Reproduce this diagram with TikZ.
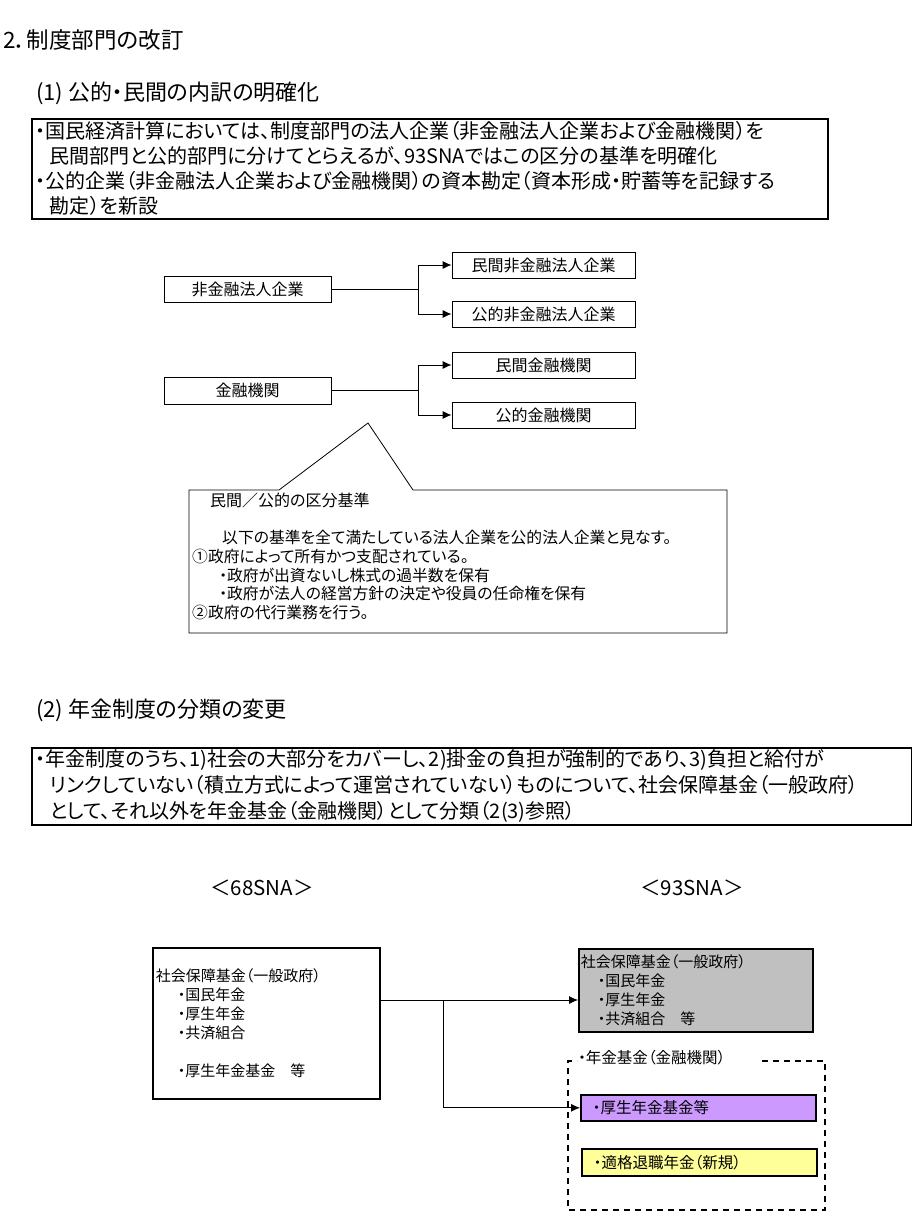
\documentclass[tikz,border=0pt]{standalone}
\usepackage{fontspec}
\setmainfont{Noto Sans CJK JP}[RawFeature=+palt]
\usetikzlibrary{arrows.meta,positioning}

\definecolor{haiiro}{RGB}{192,192,192}
\definecolor{murasaki}{RGB}{204,153,255}
\definecolor{kiiro}{RGB}{255,255,153}

\begin{document}
\begin{tikzpicture}[x=1pt,y=-1pt,
	midashi/.style={anchor=west,inner sep=0pt,font=\fontsize{22}{22}\selectfont},
	hako/.style={draw,line width=0.8pt,minimum height=26pt,inner sep=0pt,font=\fontsize{16}{16}\selectfont},
	waku/.style={draw,line width=1.6pt,anchor=north west,inner xsep=4pt,inner ysep=0pt,align=left},
	ya/.style={-{Latex[length=9pt,width=8pt]},line width=0.8pt},
	sen/.style={line width=0.8pt}]
	\useasboundingbox (0,0) rectangle (912,1225);

	% 見出し
	\node[midashi,font=\fontsize{22.5}{22.5}\selectfont] (dai2) at (3,40) {2．制度部門の改訂};
	\node[midashi] (koumoku1) at (36,93) {(1) 公的・民間の内訳の明確化};

	\node[waku,text width=788pt,minimum height=100pt,font=\fontsize{20}{25}\selectfont] (setsumei1) at (31,118)
		{・国民経済計算においては、制度部門の法人企業（非金融法人企業および金融機関）を\\
		\hspace*{14pt}民間部門と公的部門に分けてとらえるが、93SNAではこの区分の基準を明確化\\
		・公的企業（非金融法人企業および金融機関）の資本勘定（資本形成・貯蓄等を記録する\\
		\hspace*{14pt}勘定）を新設};

	% 法人企業の分割
	\node[hako,minimum width=167pt] (hikin) at (247.5,289) {非金融法人企業};
	\node[hako,minimum width=183pt] (minhi) at (543.5,265) {民間非金融法人企業};
	\node[hako,minimum width=183pt] (kouhi) at (543.5,314) {公的非金融法人企業};
	\node[hako,minimum width=167pt,minimum height=27pt] (kinyu) at (247.5,390.5) {金融機関};
	\node[hako,minimum width=183pt] (minkin) at (543.5,365) {民間金融機関};
	\node[hako,minimum width=183pt] (koukin) at (543.5,415) {公的金融機関};

	\coordinate (bunki1) at (418,289);
	\coordinate (bunki2) at (418,390.5);
	\draw[sen] (hikin.east) -- (bunki1);
	\draw[ya] (bunki1) |- (minhi.west);
	\draw[ya] (bunki1) |- (kouhi.west);
	\draw[sen] (kinyu.east) -- (bunki2);
	\draw[ya] (bunki2) |- (minkin.west);
	\draw[ya] (bunki2) |- (koukin.west);

	% 区分基準の吹き出し
	\draw[sen] (189,490) -- (279,490) -- (368,423) -- (413,490) -- (727,490) -- (727,633) -- (189,633) -- cycle;
	\node[anchor=west,inner sep=0pt,font=\fontsize{16}{16}\selectfont] (kubun) at (210,500) {民間／公的の区分基準};
	\node[anchor=north west,inner xsep=3pt,inner ysep=0pt,align=left,font=\fontsize{15.8}{18.8}\selectfont] (kijun) at (189,530)
		{\hspace*{30pt}以下の基準を全て満たしている法人企業を公的法人企業と見なす。\\
		①政府によって所有かつ支配されている。\\
		\hspace*{27pt}・政府が出資ないし株式の過半数を保有\\
		\hspace*{27pt}・政府が法人の経営方針の決定や役員の任命権を保有\\
		②政府の代行業務を行う。};

	% 年金制度
	\node[midashi] (koumoku2) at (36,710) {(2) 年金制度の分類の変更};

	\node[waku,text width=872pt,minimum height=77pt,font=\fontsize{20}{26}\selectfont] (setsumei2) at (31,747)
		{・年金制度のうち、1)社会の大部分をカバーし、2)掛金の負担が強制的であり、3)負担と給付が\\
		\hspace*{14pt}リンクしていない（積立方式によって運営されていない）ものについて、社会保障基金（一般政府）\\
		\hspace*{14pt}として、それ以外を年金基金（金融機関）として分類（2(3)参照）};

	\node[font=\fontsize{20.5}{20.5}\selectfont] (sna68) at (262,888) {＜68SNA＞};
	\node[font=\fontsize{20.5}{20.5}\selectfont] (sna93) at (692,888) {＜93SNA＞};

	\node[waku,inner xsep=3pt,text width=221pt,minimum height=151pt,font=\fontsize{15}{19}\selectfont] (kyu) at (152,947)
		{社会保障基金（一般政府）\\
		\hspace*{22pt}・国民年金\\
		\hspace*{22pt}・厚生年金\\
		\hspace*{22pt}・共済組合\\
		\mbox{}\\
		\hspace*{22pt}・厚生年金基金　等};

	\node[waku,fill=haiiro,inner xsep=2pt,text width=230pt,minimum height=83pt,font=\fontsize{15}{19}\selectfont] (shin) at (578,948)
		{社会保障基金（一般政府）\\
		\hspace*{17pt}・国民年金\\
		\hspace*{17pt}・厚生年金\\
		\hspace*{17pt}・共済組合　等};

	\draw[dashed,dash pattern=on 6pt off 5pt,line width=1.6pt]
		(762,1061) -- (825,1061) -- (825,1210) -- (568,1210) -- (568,1061) -- (577,1061);
	\node[anchor=west,inner sep=0pt,font=\fontsize{15.5}{15.5}\selectfont] (nenkin) at (578,1058) {・年金基金（金融機関）};

	\node[waku,fill=murasaki,inner xsep=3pt,text width=229pt,minimum height=26pt,font=\fontsize{15.5}{15.5}\selectfont] (kousei) at (580,1094)
		{\hspace*{9pt}・厚生年金基金等};
	\node[waku,fill=kiiro,inner xsep=3pt,text width=229pt,minimum height=27pt,font=\fontsize{15.5}{15.5}\selectfont] (tekikaku) at (581,1148)
		{\hspace*{9pt}・適格退職年金（新規）};

	\coordinate (bunki3) at (443,1000);
	\draw[sen] (kyu.east |- bunki3) -- (bunki3);
	\draw[ya] (bunki3) -- (shin.west |- bunki3);
	\draw[ya] (bunki3) |- (kousei.west);
\end{tikzpicture}
\end{document}
